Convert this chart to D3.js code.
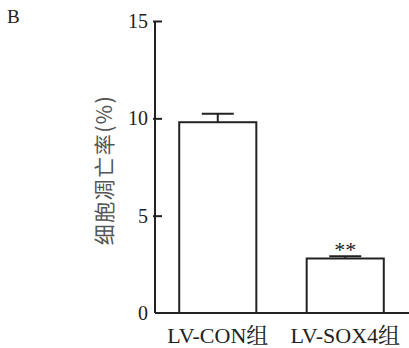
<!DOCTYPE html>
<html>
<head>
<meta charset="utf-8">
<script src="https://cdn.jsdelivr.net/npm/d3@7"></script>
<style>
  body { margin: 0; background: #fff; }
  svg { display: block; }
</style>
</head>
<body>
<div id="chart"></div>
<script>
// data
const groups = ["LV-CON组", "LV-SOX4组"];
const means = [9.8, 2.8];
const errors = [0.44, 0.12];
const marks = ["", "**"];
const yTicks = [0, 5, 10, 15];

const width = 409;
const height = 348;
const margin = { top: 21, right: 1, bottom: 35, left: 155 };

const svg = d3.select("#chart")
  .append("svg")
  .attr("width", width)
  .attr("height", height);

const y = d3.scaleLinear()
  .domain([0, 15])
  .range([height - margin.bottom, margin.top]);

const x = d3.scaleBand()
  .domain(groups)
  .range([margin.left, width - margin.right])
  .paddingInner(0.395)
  .paddingOuter(0.19);

// panel letter
svg.append("text")
  .attr("x", 7)
  .attr("y", 23)
  .style("font", "19px 'Liberation Serif', serif")
  .attr("fill", "#222")
  .text("B");

// bars
svg.selectAll("rect.bar")
  .data(groups)
  .enter()
  .append("rect")
  .attr("class", "bar")
  .attr("x", (d) => x(d))
  .attr("y", (d, i) => y(means[i]))
  .attr("width", x.bandwidth())
  .attr("height", (d, i) => y(0) - y(means[i]))
  .attr("fill", "#fff")
  .attr("stroke", "#222")
  .attr("stroke-width", 2);

// error bars (upper only)
const err = svg.selectAll("g.err")
  .data(groups)
  .enter()
  .append("g")
  .attr("class", "err");

err.append("line")
  .attr("x1", (d) => x(d) + x.bandwidth() / 2)
  .attr("x2", (d) => x(d) + x.bandwidth() / 2)
  .attr("y1", (d, i) => y(means[i]))
  .attr("y2", (d, i) => y(means[i] + errors[i]))
  .attr("stroke", "#222")
  .attr("stroke-width", 2);

err.append("line")
  .attr("x1", (d) => x(d) + x.bandwidth() / 2 - 16)
  .attr("x2", (d) => x(d) + x.bandwidth() / 2 + 16)
  .attr("y1", (d, i) => y(means[i] + errors[i]))
  .attr("y2", (d, i) => y(means[i] + errors[i]))
  .attr("stroke", "#222")
  .attr("stroke-width", 2);

// significance marks
svg.selectAll("text.sig")
  .data(groups)
  .enter()
  .append("text")
  .attr("class", "sig")
  .attr("x", (d) => x(d) + x.bandwidth() / 2)
  .attr("y", (d, i) => y(means[i] + errors[i]) + 1)
  .attr("text-anchor", "middle")
  .style("font", "22px 'Liberation Serif', serif")
  .attr("fill", "#222")
  .text((d, i) => marks[i]);

// y axis
const yAxis = svg.append("g")
  .attr("transform", `translate(${margin.left},0)`)
  .call(d3.axisLeft(y).tickValues(yTicks).tickSize(-7).tickPadding(7));
yAxis.select(".domain").attr("d", `M0,${y(15)}V${y(0)}`)
  .attr("stroke", "#222").attr("stroke-width", 2);
yAxis.selectAll(".tick line").attr("stroke", "#222").attr("stroke-width", 2)
  .attr("x1", -2);
yAxis.selectAll(".tick").filter((d) => d === 0).select("line").remove();
yAxis.selectAll(".tick text")
  .style("font", "20px 'Liberation Serif', serif")
  .attr("fill", "#222");

// x axis
const xAxis = svg.append("g")
  .attr("transform", `translate(0,${y(0)})`)
  .call(d3.axisBottom(x).tickSize(0).tickPadding(14));
xAxis.select(".domain").attr("d", `M${margin.left},0H${width}`)
  .attr("stroke", "#222").attr("stroke-width", 2);
xAxis.selectAll(".tick text")
  .style("font", "22px 'Liberation Serif', 'Noto Serif CJK SC', serif")
  .attr("fill", "#222");

// y label
svg.append("text")
  .attr("transform", `translate(112,170) rotate(-90)`)
  .attr("text-anchor", "middle")
  .style("font", "21px 'Noto Sans CJK SC', sans-serif")
  .style("letter-spacing", "1.5px")
  .attr("fill", "#555")
  .text("细胞凋亡率(%)");
</script>
</body>
</html>
